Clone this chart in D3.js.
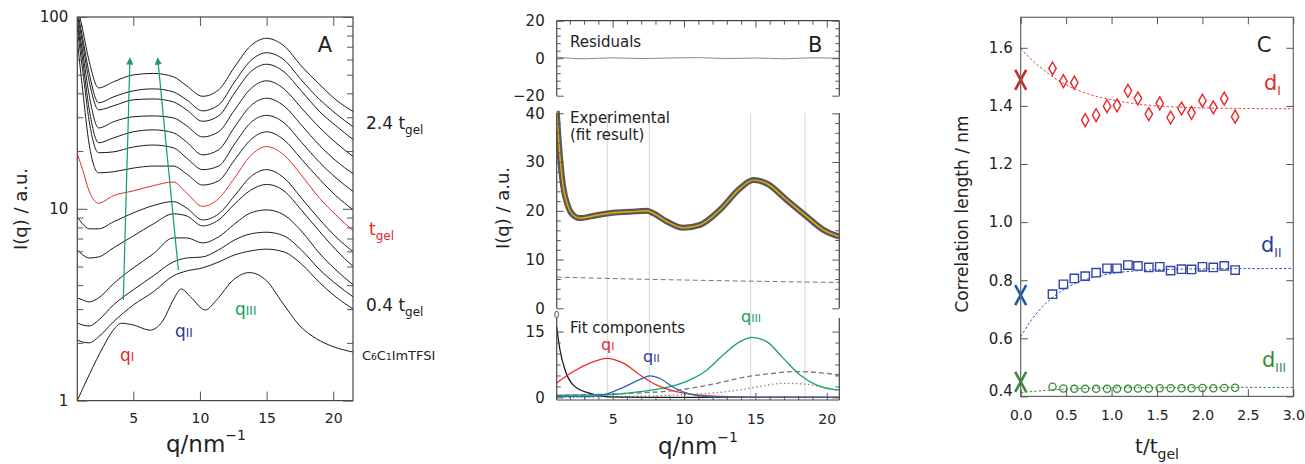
<!DOCTYPE html>
<html>
<head>
<meta charset="utf-8">
<script src="https://cdn.jsdelivr.net/npm/d3@7"></script>
<style>
  body { margin: 0; background: #fff; }
  text { font-family: "DejaVu Sans", sans-serif; }
</style>
</head>
<body>
<svg id="fig" width="1305" height="464"></svg>
<script>
// ---------- panel A : I(q) curves, log scale ----------
const qA = [0.8, 1.2, 1.7, 2.4, 3.5, 5, 6.5, 8, 9, 10.2, 11.4, 12.6, 13.8, 15, 16.3, 17.6, 19, 20.2, 21.5];
const curveA1 = [116, 85.8, 58.4, 42.7, 45.9, 49.9, 50.8, 48.8, 43.8, 38.6, 41.7, 55.0, 70.7, 77.4, 70.7, 55.6, 44.3, 37.0, 32.1];
const curveA2 = [109, 77.9, 50.6, 35.7, 38.3, 41.2, 42.2, 40.7, 37.0, 32.4, 34.8, 45.9, 59.1, 65.1, 59.8, 47.0, 37.0, 31.3, 26.7];
const curveA3 = [104, 72.5, 45.9, 32.8, 34.4, 37.0, 37.4, 36.1, 32.8, 28.6, 30.5, 40.2, 51.8, 56.7, 51.8, 41.2, 32.0, 27.1, 22.9];
const curveA4 = [96.7, 65.9, 38.8, 26.4, 28.4, 30.2, 30.5, 29.8, 27.1, 23.7, 25.2, 32.8, 42.2, 46.5, 42.2, 33.6, 26.4, 22.1, 18.7];
const curveA5 = [92.2, 59.8, 32.8, 22.1, 23.4, 25.2, 25.8, 24.9, 22.3, 19.1, 20.3, 26.7, 34.4, 37.7, 34.4, 27.4, 21.3, 17.8, 15.2];
const curveA6 = [85.8, 53.0, 28.4, 19.6, 19.8, 21.0, 21.5, 20.8, 18.4, 16.0, 16.7, 21.8, 28.1, 30.7, 28.1, 22.3, 17.4, 14.5, 12.3];
const curveA7 = [76.0, 41.7, 21.5, 15.4, 15.6, 16.3, 16.7, 16.7, 15.2, 13.3, 14.0, 18.0, 22.9, 25.2, 22.9, 18.2, 14.2, 11.7, 9.87];
const curveGel = [19.3, 16.0, 12.3, 10.7, 11.7, 12.4, 13.2, 13.8, 12.1, 10.3, 11.3, 14.5, 18.9, 21.1, 19.1, 15.0, 11.3, 9.29, 7.67];
const curveA9 = [9.07, 8.34, 7.86, 7.86, 8.54, 9.52, 10.4, 10.9, 10.1, 8.75, 9.41, 11.7, 14.7, 16.0, 14.5, 11.4, 8.75, 7.14, 5.96];
const curveA10 = [6.11, 5.75, 5.54, 5.61, 6.25, 7.22, 8.34, 9.41, 9.18, 8.14, 8.75, 10.6, 12.5, 13.4, 12.4, 9.87, 7.58, 6.11, 4.99];
const curveA11 = [3.43, 3.35, 3.27, 3.43, 4.06, 4.92, 5.82, 7.05, 7.05, 6.64, 7.14, 8.34, 9.52, 9.87, 9.29, 7.67, 5.82, 4.80, 4.01];
const curveA12 = [2.54, 2.48, 2.45, 2.63, 3.15, 3.78, 4.47, 5.28, 5.54, 5.61, 6.11, 6.88, 7.40, 7.55, 7.22, 6.11, 4.80, 4.06, 3.47];
const curveA13 = [2.07, 2.02, 2.00, 2.15, 2.57, 3.15, 3.69, 4.47, 4.74, 4.92, 5.28, 5.75, 6.03, 6.16, 5.96, 5.16, 4.11, 3.47, 3.00];
const qNeat = [0.8, 1.75, 2.75, 3.5, 4.1, 5, 6.25, 7.25, 8.0, 8.6, 9.3, 10.4, 11.25, 12.5, 13.7, 15, 16.2, 17.5, 18.75, 20, 21.5];
const curveNeat = [1.0, 1.39, 1.91, 2.33, 2.53, 2.48, 2.33, 2.63, 3.35, 3.82, 3.47, 2.97, 3.35, 4.26, 4.65, 4.21, 3.23, 2.45, 2.10, 1.91, 1.79];
const arrowsA = [[[4.25, 3.35], [4.75, 61]], [[8.38, 4.8], [6.83, 61]]];
const xTicksA = [5, 10, 15, 20];
const yMajorA = [1, 10, 100];
const yMinorA = [2, 3, 4, 5, 6, 7, 8, 9, 20, 30, 40, 50, 60, 70, 80, 90];

// ---------- panel B : fit ----------
const qExp = [1.08, 1.31, 1.54, 1.89, 2.24, 2.71, 3.88, 5.05, 6.22, 7.39, 7.85, 8.79, 9.95, 11.12, 12.52, 13.92, 14.86, 15.80, 17.2, 18.6, 19.76, 20.88];
const iExp = [40.5, 31.1, 24.9, 20.8, 19.1, 18.5, 19.1, 19.6, 19.8, 20.0, 19.5, 17.8, 16.5, 17.1, 20.2, 24.6, 26.3, 25.6, 22.2, 18.8, 16.1, 14.7];
const qResid = [1.08, 3, 5, 7, 9, 11, 13, 15, 17, 19, 20.88];
const resid = [0.6, -0.3, 0.2, -0.2, 0.1, 0.3, -0.2, 0.1, -0.3, 0.2, 0];
const qBack = [1.08, 5, 10, 15, 20.88];
const iBack = [6.4, 6.1, 5.8, 5.55, 5.3];
const qGridB = [4.63, 7.57, 14.67, 18.48];
const qLow = [1.08, 1.31, 1.66, 2.24, 3.41, 4.58, 6, 10, 20.88];
const iLow = [16.1, 10.8, 6.3, 2.8, 0.9, 0.15, 0.05, 0, 0];
const qCompI = [1.08, 2.24, 3.41, 4.58, 5.75, 6.92, 8.09, 9.25, 11.59, 13.92, 17, 20.88];
const iCompI = [3.3, 5.9, 7.8, 8.9, 7.8, 5.1, 2.8, 1.5, 0.4, 0.12, 0.05, 0.02];
const qCompII = [1.08, 3.41, 4.58, 5.75, 6.92, 7.62, 8.32, 9.25, 10.42, 11.59, 14, 20.88];
const iCompII = [0.25, 0.2, 0.75, 2.3, 4.1, 4.9, 4.3, 2.3, 0.75, 0.15, 0.02, 0];
const qCompIII = [1.08, 4.58, 6.92, 9.25, 10.42, 11.59, 12.75, 13.92, 14.74, 15.80, 16.96, 18.13, 19.30, 20.46, 20.88];
const iCompIII = [0.5, 0.6, 1.3, 2.6, 4.0, 6.2, 9.7, 12.7, 13.7, 12.7, 8.9, 5.1, 2.8, 1.8, 1.7];
const qDash = [1.08, 3, 6, 9.7, 12, 14.4, 16.3, 17.7, 19.3, 20.88];
const iDash = [0.4, 0.6, 0.9, 1.7, 3.0, 4.7, 5.5, 5.9, 5.7, 5.1];
const qDot = [1.08, 6, 9.25, 12, 13.92, 15.5, 16.96, 18.5, 19.76, 20.88];
const iDot = [0.0, 0.2, 0.5, 1.0, 1.7, 2.6, 3.2, 3.0, 2.3, 1.4];

// ---------- panel C : correlation lengths ----------
const tC = [0.35, 0.47, 0.59, 0.71, 0.83, 0.95, 1.06, 1.18, 1.29, 1.41, 1.53, 1.65, 1.77, 1.88, 2.0, 2.12, 2.24, 2.36];
const dI = [1.529, 1.485, 1.480, 1.351, 1.368, 1.399, 1.402, 1.452, 1.426, 1.372, 1.409, 1.360, 1.391, 1.376, 1.418, 1.395, 1.425, 1.363];
const dII = [0.752, 0.786, 0.806, 0.814, 0.826, 0.841, 0.841, 0.852, 0.849, 0.844, 0.846, 0.833, 0.838, 0.837, 0.846, 0.844, 0.849, 0.835];
const dIII = [0.433, 0.427, 0.426, 0.426, 0.426, 0.426, 0.426, 0.426, 0.427, 0.427, 0.428, 0.428, 0.428, 0.428, 0.429, 0.428, 0.429, 0.430];
const tFit = [0, 0.1, 0.2, 0.3, 0.45, 0.6, 0.8, 1.0, 1.3, 1.6, 2.0, 2.5, 3.0];
const dIfit = [1.598, 1.565, 1.537, 1.512, 1.481, 1.458, 1.436, 1.421, 1.406, 1.398, 1.393, 1.391, 1.390];
const dIIfit = [0.605, 0.655, 0.695, 0.727, 0.763, 0.789, 0.810, 0.823, 0.833, 0.837, 0.839, 0.840, 0.840];
const dIIIfit = [0.413, 0.416, 0.419, 0.421, 0.424, 0.426, 0.428, 0.429, 0.430, 0.430, 0.431, 0.431, 0.431];
const dNeat = [1.49, 0.749, 0.450];

const RED = '#e8262a', BLUE = '#2b3a97', GREEN = '#12a05a';
const svg = d3.select('#fig');
const zip = (xs, ys) => xs.map((x, i) => [x, ys[i]]);

// axis with inward ticks, no domain line
function ticks(g, gen, tr, fs) {
  const a = g.append('g').attr('transform', tr).call(gen);
  a.select('.domain').remove();
  a.selectAll('.tick line').attr('stroke', '#555');
  a.selectAll('.tick text').attr('fill', '#222').style('font-size', (fs || 14) + 'px');
  return a;
}

function rich(g, x, y, parts, color, anchor) {
  const t = g.append('text').attr('x', x).attr('y', y).attr('fill', color || '#222')
    .attr('text-anchor', anchor || 'start');
  parts.forEach(p => t.append('tspan').text(p.t).style('font-size', p.s + 'px').attr('dy', p.dy || 0));
  return t;
}

// ================= PANEL A =================
const xA = d3.scaleLinear().domain([0.8, 21.48]).range([77.3, 353]);
const yA = d3.scaleLog().domain([1, 100]).range([400.6, 17]);
const gA = svg.append('g');

gA.append('clipPath').attr('id', 'clipA').append('rect')
  .attr('x', 77.3).attr('y', 17).attr('width', 275.7).attr('height', 383.6);

const lineA = d3.line().x(d => xA(d[0])).y(d => yA(d[1])).curve(d3.curveMonotoneX);
const curvesA = [curveA1, curveA2, curveA3, curveA4, curveA5, curveA6, curveA7, curveGel,
  curveA9, curveA10, curveA11, curveA12, curveA13];
const plotA = gA.append('g').attr('clip-path', 'url(#clipA)');
curvesA.forEach(c => {
  plotA.append('path').datum(zip(qA, c)).attr('d', lineA).attr('fill', 'none')
    .attr('stroke', c === curveGel ? RED : '#1a1a1a').attr('stroke-width', 1);
});
plotA.append('path').datum(zip(qNeat, curveNeat)).attr('d', lineA)
  .attr('fill', 'none').attr('stroke', '#1a1a1a').attr('stroke-width', 1);

svg.append('defs').append('marker').attr('id', 'arrG').attr('viewBox', '0 0 10 10')
  .attr('refX', 9).attr('refY', 5).attr('markerWidth', 6).attr('markerHeight', 6)
  .attr('orient', 'auto').append('path').attr('d', 'M0,0L10,5L0,10z').attr('fill', GREEN);
arrowsA.forEach(a => {
  gA.append('line').attr('x1', xA(a[0][0])).attr('y1', yA(a[0][1]))
    .attr('x2', xA(a[1][0])).attr('y2', yA(a[1][1]))
    .attr('stroke', GREEN).attr('stroke-width', 1.2).attr('marker-end', 'url(#arrG)');
});

gA.append('rect').attr('x', 77.3).attr('y', 17).attr('width', 275.7).attr('height', 383.6)
  .attr('fill', 'none').attr('stroke', '#444').attr('stroke-width', 1.2);
ticks(gA, d3.axisBottom(xA).tickValues(xTicksA).tickSize(-9).tickPadding(12), 'translate(0,400.6)');
ticks(gA, d3.axisTop(xA).tickValues(xTicksA).tickSize(-9).tickFormat(''), 'translate(0,17)');
ticks(gA, d3.axisLeft(yA).tickValues(yMajorA).tickSize(-10).tickPadding(9).tickFormat(d3.format('d')), 'translate(77.3,0)', 15);
ticks(gA, d3.axisLeft(yA).tickValues(yMinorA).tickSize(-6).tickFormat(''), 'translate(77.3,0)');
ticks(gA, d3.axisRight(yA).tickValues(yMajorA).tickSize(-10).tickFormat(''), 'translate(353,0)');
ticks(gA, d3.axisRight(yA).tickValues(yMinorA).tickSize(-6).tickFormat(''), 'translate(353,0)');

gA.append('text').attr('x', 325).attr('y', 52).attr('text-anchor', 'middle').style('font-size', '21px').attr('fill', '#222').text('A');
rich(gA, 366, 129, [{t: '2.4 t', s: 17}, {t: 'gel', s: 12, dy: 5}]);
rich(gA, 369, 235, [{t: 't', s: 17}, {t: 'gel', s: 12, dy: 5}], RED);
rich(gA, 366, 311, [{t: '0.4 t', s: 17}, {t: 'gel', s: 12, dy: 5}]);
rich(gA, 362, 360, [{t: 'C', s: 13}, {t: '6', s: 9}, {t: 'C', s: 13}, {t: '1', s: 9}, {t: 'ImTFSI', s: 13}]);
rich(gA, 120, 361, [{t: 'q', s: 17}, {t: 'I', s: 12}], RED);
rich(gA, 175, 337, [{t: 'q', s: 17}, {t: 'II', s: 12}], BLUE);
rich(gA, 235, 315, [{t: 'q', s: 17}, {t: 'III', s: 12}], GREEN);
gA.append('text').attr('transform', 'translate(27,209) rotate(-90)').attr('text-anchor', 'middle')
  .style('font-size', '18px').attr('fill', '#222').text('I(q) / a.u.');
rich(gA, 206, 452, [{t: 'q/nm', s: 23}, {t: '−1', s: 14, dy: -12}], '#222', 'middle');

// ================= PANEL B =================
const xB = d3.scaleLinear().domain([1.08, 20.88]).range([556.7, 839.3]);
const yR = d3.scaleLinear().domain([-20, 20]).range([95.7, 20.7]);
const yM = d3.scaleLinear().domain([0, 40]).range([308.3, 113.3]);
const yL = d3.scaleLinear().domain([-0.6, 18.1]).range([400, 318]);
const gB = svg.append('g');

gB.append('clipPath').attr('id', 'clipB').append('rect')
  .attr('x', 556.7).attr('y', 20.7).attr('width', 282.6).attr('height', 379.3);

qGridB.forEach(q => gB.append('line').attr('x1', xB(q)).attr('x2', xB(q)).attr('y1', 113.3).attr('y2', 400)
  .attr('stroke', '#dcdcdc').attr('stroke-width', 1.2));

const plotB = gB.append('g').attr('clip-path', 'url(#clipB)');
const lineR = d3.line().x(d => xB(d[0])).y(d => yR(d[1])).curve(d3.curveMonotoneX);
const lineM = d3.line().x(d => xB(d[0])).y(d => yM(d[1])).curve(d3.curveMonotoneX);
const lineL = d3.line().x(d => xB(d[0])).y(d => yL(d[1])).curve(d3.curveMonotoneX);

plotB.append('path').datum(zip(qResid, resid)).attr('d', lineR).attr('fill', 'none').attr('stroke', '#8a8a8a').attr('stroke-width', 1);
plotB.append('path').datum(zip(qBack, iBack)).attr('d', lineM).attr('fill', 'none')
  .attr('stroke', '#777').attr('stroke-width', 1).attr('stroke-dasharray', '5,3');
plotB.append('path').datum(zip(qExp, iExp)).attr('d', lineM).attr('fill', 'none').attr('stroke', '#565b5a').attr('stroke-width', 6);
plotB.append('path').datum(zip(qExp, iExp)).attr('d', lineM).attr('fill', 'none').attr('stroke', '#f2a900').attr('stroke-width', 1.4);

const comps = [
  [qDash, iDash, '#777', '5,3'], [qDot, iDot, '#888', '1.5,2.5'], [qLow, iLow, '#1a1a1a', null],
  [qCompIII, iCompIII, '#14a46c', null], [qCompI, iCompI, '#ef2b2b', null], [qCompII, iCompII, '#2a66b8', null]
];
comps.forEach(c => {
  plotB.append('path').datum(zip(c[0], c[1])).attr('d', lineL).attr('fill', 'none')
    .attr('stroke', c[2]).attr('stroke-width', 1.3).attr('stroke-dasharray', c[3]);
});

// frame pieces
const frameB = [[20.7, 95.7], [113.3, 308.3], [318, 400]];
frameB.forEach(s => {
  [556.7, 839.3].forEach(x => gB.append('line').attr('x1', x).attr('x2', x).attr('y1', s[0]).attr('y2', s[1]).attr('stroke', '#444').attr('stroke-width', 1.2));
});
gB.append('line').attr('x1', 556.7).attr('x2', 839.3).attr('y1', 20.7).attr('y2', 20.7).attr('stroke', '#444').attr('stroke-width', 1.2);
gB.append('line').attr('x1', 556.7).attr('x2', 839.3).attr('y1', 400).attr('y2', 400).attr('stroke', '#444').attr('stroke-width', 1.2);

const qMinorB = d3.range(2, 21).filter(q => q % 5 !== 0);
ticks(gB, d3.axisBottom(xB).tickValues([5, 10, 15, 20]).tickSize(-7).tickPadding(14), 'translate(0,400)');
ticks(gB, d3.axisBottom(xB).tickValues(qMinorB).tickSize(-4).tickFormat(''), 'translate(0,400)');
ticks(gB, d3.axisTop(xB).tickValues([5, 10, 15, 20]).tickSize(-7).tickFormat(''), 'translate(0,20.7)');
ticks(gB, d3.axisTop(xB).tickValues(qMinorB).tickSize(-4).tickFormat(''), 'translate(0,20.7)');

const subB = [
  [yR, [-20, 0, 20], [-16, -12, -8, -4, 4, 8, 12, 16]],
  [yM, [0, 10, 20, 30, 40], d3.range(2, 40, 2).filter(v => v % 10 !== 0)],
  [yL, [0, 15], [2.5, 5, 7.5, 10, 12.5]]
];
subB.forEach(s => {
  ticks(gB, d3.axisLeft(s[0]).tickValues(s[1]).tickSize(-7).tickPadding(12), 'translate(556.7,0)', 15);
  ticks(gB, d3.axisLeft(s[0]).tickValues(s[2]).tickSize(-4).tickFormat(''), 'translate(556.7,0)');
  ticks(gB, d3.axisRight(s[0]).tickValues(s[1]).tickSize(-7).tickFormat(''), 'translate(839.3,0)');
  ticks(gB, d3.axisRight(s[0]).tickValues(s[2]).tickSize(-4).tickFormat(''), 'translate(839.3,0)');
});

gB.append('text').attr('x', 556.7).attr('y', 318).attr('text-anchor', 'middle').style('font-size', '9px').attr('fill', '#555').text('0');
gB.append('text').attr('x', 570).attr('y', 47).style('font-size', '15px').attr('fill', '#222').text('Residuals');
gB.append('text').attr('x', 808).attr('y', 52).style('font-size', '21px').attr('fill', '#222').text('B');
gB.append('text').attr('x', 570).attr('y', 123).style('font-size', '15px').attr('fill', '#222').text('Experimental');
gB.append('text').attr('x', 570).attr('y', 140).style('font-size', '15px').attr('fill', '#222').text('(fit result)');
gB.append('text').attr('x', 570).attr('y', 333).style('font-size', '15px').attr('fill', '#222').text('Fit components');
rich(gB, 601, 350, [{t: 'q', s: 16}, {t: 'I', s: 11}], RED);
rich(gB, 643, 362, [{t: 'q', s: 16}, {t: 'II', s: 11}], BLUE);
rich(gB, 741, 322, [{t: 'q', s: 16}, {t: 'III', s: 11}], GREEN);
gB.append('text').attr('transform', 'translate(509,208) rotate(-90)').attr('text-anchor', 'middle')
  .style('font-size', '18px').attr('fill', '#222').text('I(q) / a.u.');
rich(gB, 698, 454, [{t: 'q/nm', s: 23}, {t: '−1', s: 14, dy: -12}], '#222', 'middle');

// ================= PANEL C =================
const xC = d3.scaleLinear().domain([0, 3]).range([1020.7, 1293.3]);
const yC = d3.scaleLinear().domain([0.4, 1.705]).range([396.4, 17.3]);
const gC = svg.append('g');
const lineC = d3.line().x(d => xC(d[0])).y(d => yC(d[1])).curve(d3.curveMonotoneX);

[[dIfit, '#f04040'], [dIIfit, '#3a4cb0'], [dIIIfit, '#3a8a3a']].forEach(f => {
  gC.append('path').datum(zip(tFit, f[0])).attr('d', lineC).attr('fill', 'none')
    .attr('stroke', f[1]).attr('stroke-width', 1).attr('stroke-dasharray', '2.5,2');
});

gC.selectAll('.dia').data(zip(tC, dI)).enter().append('path')
  .attr('transform', d => `translate(${xC(d[0])},${yC(d[1])})`)
  .attr('d', d3.symbol(d3.symbolDiamond, 48)).attr('fill', 'none').attr('stroke', RED).attr('stroke-width', 1.4);
gC.selectAll('.sq').data(zip(tC, dII)).enter().append('path')
  .attr('transform', d => `translate(${xC(d[0])},${yC(d[1])})`)
  .attr('d', d3.symbol(d3.symbolSquare, 70)).attr('fill', 'none').attr('stroke', '#3346a8').attr('stroke-width', 1.4);
gC.selectAll('.ci').data(zip(tC, dIII)).enter().append('circle')
  .attr('cx', d => xC(d[0])).attr('cy', d => yC(d[1])).attr('r', 3.6)
  .attr('fill', 'none').attr('stroke', '#3a8a3a').attr('stroke-width', 1.3);

const xColors = ['#c8282c', '#1d5aa8', '#3b8b3b'];
dNeat.forEach((v, i) => {
  gC.append('path').attr('transform', `translate(${xC(0)},${yC(v)})`)
    .attr('d', 'M-5.5,-10L5.5,10M5.5,-10L-5.5,10').attr('stroke', xColors[i]).attr('stroke-width', 2.6).attr('fill', 'none');
});

gC.append('rect').attr('x', 1020.7).attr('y', 17.3).attr('width', 272.6).attr('height', 379.1)
  .attr('fill', 'none').attr('stroke', '#666').attr('stroke-width', 1.2);
const tTicks = d3.range(0, 3.01, 0.5);
const dTicks = [0.4, 0.6, 0.8, 1.0, 1.2, 1.4, 1.6];
ticks(gC, d3.axisBottom(xC).tickValues(tTicks).tickSize(-7).tickPadding(14).tickFormat(d3.format('.1f')), 'translate(0,396.4)');
ticks(gC, d3.axisTop(xC).tickValues(tTicks).tickSize(-7).tickFormat(''), 'translate(0,17.3)');
const yAx = ticks(gC, d3.axisLeft(yC).tickValues(dTicks).tickSize(-7).tickPadding(8).tickFormat(d3.format('.1f')), 'translate(1020.7,0)', 15);
yAx.selectAll('.tick text').filter(d => d === 0.4).attr('y', -6);
ticks(gC, d3.axisRight(yC).tickValues(dTicks).tickSize(-7).tickFormat(''), 'translate(1293.3,0)');

gC.append('text').attr('x', 1264).attr('y', 52).attr('text-anchor', 'middle').style('font-size', '21px').attr('fill', '#222').text('C');
rich(gC, 1264, 90, [{t: 'd', s: 21}, {t: 'I', s: 12, dy: 5}], RED);
rich(gC, 1261, 252, [{t: 'd', s: 21}, {t: 'II', s: 12, dy: 5}], BLUE);
rich(gC, 1262, 367, [{t: 'd', s: 21}, {t: 'III', s: 12, dy: 5}], '#3a8a3a');
gC.append('text').attr('transform', 'translate(968,214) rotate(-90)').attr('text-anchor', 'middle')
  .style('font-size', '17px').attr('fill', '#222').text('Correlation length / nm');
rich(gC, 1157, 453, [{t: 't/t', s: 20}, {t: 'gel', s: 14, dy: 6}], '#222', 'middle');
</script>
</body>
</html>
